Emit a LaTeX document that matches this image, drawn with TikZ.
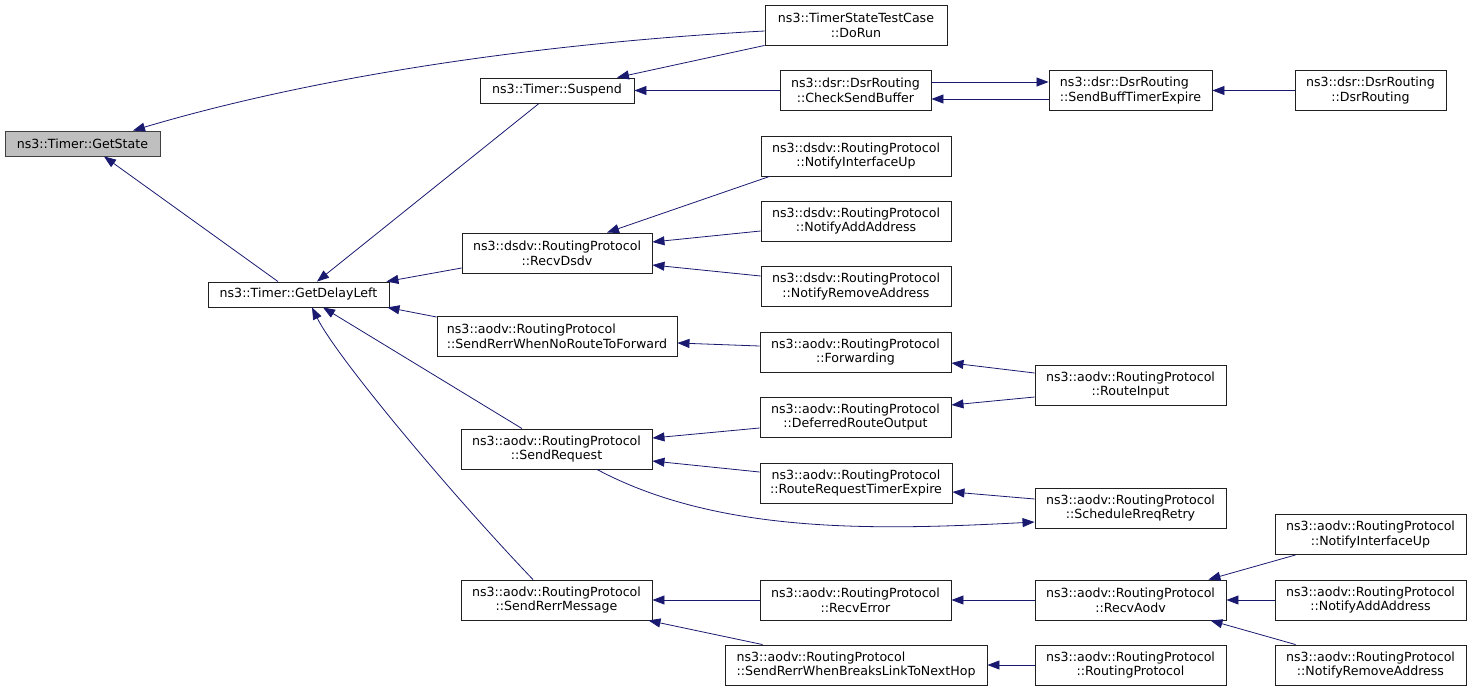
\documentclass[tikz,border=0pt]{standalone}
\usepackage{fontspec}
\setmainfont{DejaVu Sans}
\usetikzlibrary{arrows.meta}
\definecolor{edgec}{HTML}{191970}
\definecolor{rootfill}{HTML}{BFBFBF}
\definecolor{boxline}{HTML}{202020}
\begin{document}
\begin{tikzpicture}[x=1pt,y=-1pt,
  box/.style={draw=boxline, line width=0.9pt, fill=white, inner sep=0pt, align=center, minimum height=40pt, font=\fontsize{12.6}{14.8}\selectfont},
  lbox/.style={box, align=left},
  edge/.style={draw=edgec, line width=0.8pt, -{Triangle[length=12pt,width=9pt]}}]
\useasboundingbox (0,0) rectangle (1472,691);
% nodes
\node[box, fill=rootfill, draw=black!75, minimum width=155pt, minimum height=25pt] (gs) at (82.5,143.5) {ns3::Timer::GetState};
\node[box, minimum width=181pt, minimum height=25pt] (gdl) at (298.5,294.5) {ns3::Timer::GetDelayLeft};
\node[box, minimum width=154pt, minimum height=25pt] (sus) at (557,90.5) {ns3::Timer::Suspend};
\node[box, minimum width=182pt] (dorun) at (856,25) {ns3::TimerStateTestCase\\::DoRun};
\node[box, minimum width=151pt] (csb) at (855.5,90.5) {ns3::dsr::DsrRouting\\::CheckSendBuffer};
\node[lbox, minimum width=163pt] (sbte) at (1130.5,90.5) {ns3::dsr::DsrRouting\\::SendBuffTimerExpire};
\node[box, minimum width=151pt] (dsr) at (1370.5,90.5) {ns3::dsr::DsrRouting\\::DsrRouting};
\node[box, minimum width=190pt] (difup) at (856,156) {ns3::dsdv::RoutingProtocol\\::NotifyInterfaceUp};
\node[box, minimum width=190pt] (dadd) at (856,221) {ns3::dsdv::RoutingProtocol\\::NotifyAddAddress};
\node[box, minimum width=190pt] (drem) at (856,286.5) {ns3::dsdv::RoutingProtocol\\::NotifyRemoveAddress};
\node[box, minimum width=190pt] (rdsdv) at (557,253) {ns3::dsdv::RoutingProtocol\\::RecvDsdv};
\node[lbox, minimum width=240pt] (noroute) at (557,336) {ns3::aodv::RoutingProtocol\\::SendRerrWhenNoRouteToForward};
\node[box, minimum width=191pt] (fwd) at (855.5,352) {ns3::aodv::RoutingProtocol\\::Forwarding};
\node[box, minimum width=191pt] (defer) at (855.5,417) {ns3::aodv::RoutingProtocol\\::DeferredRouteOutput};
\node[box, minimum width=192pt] (rrte) at (856,483) {ns3::aodv::RoutingProtocol\\::RouteRequestTimerExpire};
\node[box, minimum width=191pt] (sreq) at (556.5,449) {ns3::aodv::RoutingProtocol\\::SendRequest};
\node[box, minimum width=191pt] (srm) at (556.5,600) {ns3::aodv::RoutingProtocol\\::SendRerrMessage};
\node[box, minimum width=191pt] (rerr) at (855.5,600) {ns3::aodv::RoutingProtocol\\::RecvError};
\node[lbox, minimum width=262pt] (breaks) at (856,665) {ns3::aodv::RoutingProtocol\\::SendRerrWhenBreaksLinkToNextHop};
\node[box, minimum width=191pt] (rin) at (1130.5,385) {ns3::aodv::RoutingProtocol\\::RouteInput};
\node[box, minimum width=191pt] (sched) at (1130.5,508) {ns3::aodv::RoutingProtocol\\::ScheduleRreqRetry};
\node[box, minimum width=191pt] (raodv) at (1130.5,600) {ns3::aodv::RoutingProtocol\\::RecvAodv};
\node[box, minimum width=191pt] (rp) at (1130.5,665) {ns3::aodv::RoutingProtocol\\::RoutingProtocol};
\node[box, minimum width=191pt] (aifup) at (1370.5,534.5) {ns3::aodv::RoutingProtocol\\::NotifyInterfaceUp};
\node[box, minimum width=191pt] (aadd) at (1370.5,600) {ns3::aodv::RoutingProtocol\\::NotifyAddAddress};
\node[box, minimum width=191pt] (arem) at (1370.5,665) {ns3::aodv::RoutingProtocol\\::NotifyRemoveAddress};
% edges
\draw[edge] ([yshift=-6pt]dorun.west) .. controls (560,42) and (330,72) .. ([xshift=50.5pt]gs.north);
\draw[edge] (dorun.south west) -- ([xshift=60pt]sus.north);
\draw[edge] ([xshift=-20.5pt]gdl.north) -- ([xshift=21.5pt]gs.south);
\draw[edge] ([xshift=-18pt]sus.south) -- ([xshift=18.5pt]gdl.north);
\draw[edge] (csb.west) -- (sus.east);
\draw[edge] ([yshift=8.5pt]csb.east) -- ([yshift=8.5pt]sbte.west);
\draw[edge] ([yshift=-8.5pt]sbte.west) -- ([yshift=-8.5pt]csb.east);
\draw[edge] (dsr.west) -- (sbte.east);
\draw[edge] ([xshift=9pt]difup.south west) -- ([xshift=50pt]rdsdv.north);
\draw[edge] ([yshift=-10pt]dadd.west) -- ([yshift=11pt]rdsdv.east);
\draw[edge] ([yshift=10.5pt]drem.west) -- ([yshift=-12pt]rdsdv.east);
\draw[edge] ([yshift=-15pt]rdsdv.west) -- ([xshift=-3pt]gdl.north east);
\draw[edge] ([yshift=19pt]noroute.west) -- ([xshift=-2pt]gdl.south east);
\draw[edge] ([xshift=-34.5pt]sreq.north) -- ([xshift=24.5pt]gdl.south);
\draw[edge] ([xshift=-23.5pt]srm.north) .. controls (453,496) and (337,358) .. ([xshift=13.5pt]gdl.south);
\draw[edge] ([yshift=6pt]fwd.west) -- ([yshift=-7pt]noroute.east);
\draw[edge] ([yshift=12pt]rin.west) -- ([yshift=-11pt]fwd.east);
\draw[edge] ([yshift=-12pt]rin.west) -- ([yshift=12pt]defer.east);
\draw[edge] ([yshift=-11pt]defer.west) -- ([yshift=11pt]sreq.east);
\draw[edge] ([yshift=11pt]rrte.west) -- ([yshift=-12pt]sreq.east);
\draw[edge] ([yshift=9pt]sched.west) -- ([yshift=-9pt]rrte.east);
\draw[edge] ([xshift=40.5pt]sreq.south) .. controls (720,535) and (880,530) .. ([yshift=-14pt]sched.west);
\draw[edge] (rerr.west) -- (srm.east);
\draw[edge] ([xshift=38pt]breaks.north west) -- ([xshift=-4pt]srm.south east);
\draw[edge] (raodv.west) -- (rerr.east);
\draw[edge] ([xshift=21pt]aifup.south west) -- ([xshift=-18pt]raodv.north east);
\draw[edge] (aadd.west) -- (raodv.east);
\draw[edge] ([xshift=21pt]arem.north west) -- ([xshift=-16pt]raodv.south east);
\draw[edge] (rp.west) -- (breaks.east);
\end{tikzpicture}
\end{document}
